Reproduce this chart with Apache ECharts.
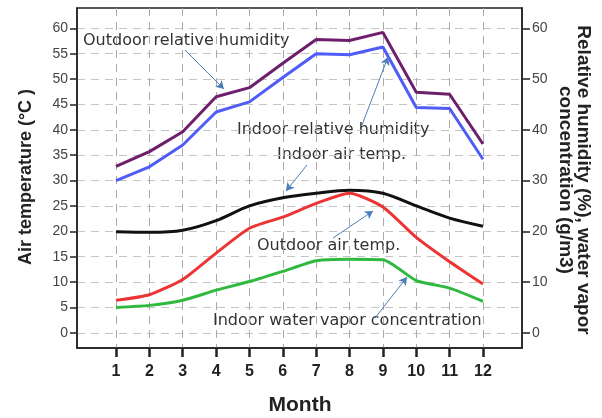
<!DOCTYPE html>
<html>
<head>
<meta charset="utf-8">
<script src="https://cdn.jsdelivr.net/npm/echarts@6/dist/echarts.min.js"></script>
<style>
  html, body { margin: 0; padding: 0; background: #fff; }
  #main { width: 602px; height: 418px; }
</style>
</head>
<body>
<div id="main"></div>
<script>
var months = [1, 2, 3, 4, 5, 6, 7, 8, 9, 10, 11, 12];
var outdoorRH = [32.8, 35.7, 39.6, 46.5, 48.3, 53.1, 57.8, 57.6, 59.2, 47.4, 47.0, 37.2];
var indoorRH = [30.0, 32.7, 37.0, 43.5, 45.5, 50.3, 55.0, 54.8, 56.3, 44.4, 44.2, 34.2];
var indoorTemp = [19.9, 19.8, 20.2, 22.1, 25.0, 26.6, 27.5, 28.1, 27.5, 25.0, 22.6, 21.0];
var outdoorTemp = [6.4, 7.5, 10.5, 15.7, 20.6, 22.8, 25.5, 27.5, 24.8, 18.8, 14.0, 9.6];
var indoorVapor = [5.0, 5.4, 6.4, 8.4, 10.1, 12.1, 14.2, 14.5, 14.4, 10.3, 8.8, 6.2];
var leftTicks = [0, 5, 10, 15, 20, 25, 30, 35, 40, 45, 50, 55, 60];
var rightTicks = [0, 10, 20, 30, 40, 50, 60];

function pairs(arr) {
  return arr.map(function (v, i) { return [months[i], v]; });
}

var myChart = echarts.init(document.getElementById('main'));

var arrow = function (x1, y1, x2, y2) {
  return [{ x: x1, y: y1, symbol: 'none' }, { x: x2, y: y2, symbol: 'arrow' }];
};

var annText = function (txt, x, y) {
  return {
    type: 'text', left: x, top: y,
    style: { text: txt, fill: '#333', font: '16px "DejaVu Sans", sans-serif' }
  };
};

var option = {
  animation: false,
  grid: {
    left: 77, right: 80, top: 8, bottom: 70,
    show: true, borderColor: '#222', borderWidth: 1.5, backgroundColor: 'transparent'
  },
  xAxis: {
    type: 'value', min: -0.17, max: 13.17,
    axisLine: { show: true, onZero: false, lineStyle: { color: '#222', width: 1.5 } },
    axisTick: { show: true, customValues: months, length: 9, lineStyle: { color: '#222', width: 2.5 } },
    axisLabel: {
      customValues: months, margin: 16, color: '#222',
      fontSize: 16, fontWeight: 'bold', fontFamily: 'Liberation Sans, Arial, sans-serif'
    },
    splitLine: { show: true, lineStyle: { color: '#aaa', type: [8, 6], width: 1 } }
  },
  yAxis: [
    {
      type: 'value', min: -3, max: 64, position: 'left',
      axisLine: { show: true, onZero: false, lineStyle: { color: '#222', width: 1.5 } },
      axisTick: { show: true, customValues: leftTicks, length: 7, lineStyle: { color: '#222', width: 1.5 } },
      axisLabel: {
        customValues: leftTicks, margin: 9, color: '#444',
        fontSize: 14, fontFamily: 'Liberation Sans, Arial, sans-serif'
      },
      splitLine: { show: true, lineStyle: { color: '#c4c4c4', type: [8, 6], width: 1 } }
    },
    {
      type: 'value', min: -3, max: 64, position: 'right',
      axisLine: { show: true, onZero: false, lineStyle: { color: '#222', width: 1.5 } },
      axisTick: { show: true, customValues: rightTicks, length: 8, lineStyle: { color: '#222', width: 1.5 } },
      axisLabel: {
        customValues: rightTicks, margin: 10, color: '#444',
        fontSize: 14, fontFamily: 'Liberation Sans, Arial, sans-serif'
      },
      splitLine: { show: false }
    }
  ],
  series: [
    {
      name: 'Outdoor relative humidity', type: 'line', yAxisIndex: 1,
      data: pairs(outdoorRH), symbol: 'none',
      lineStyle: { color: '#6e1f6c', width: 3 }
    },
    {
      name: 'Indoor relative humidity', type: 'line', yAxisIndex: 1,
      data: pairs(indoorRH), symbol: 'none',
      lineStyle: { color: '#4f5cf5', width: 3 }
    },
    {
      name: 'Indoor air temp.', type: 'line', yAxisIndex: 0,
      data: pairs(indoorTemp), symbol: 'none', smooth: 0.3,
      lineStyle: { color: '#111', width: 3 }
    },
    {
      name: 'Outdoor air temp.', type: 'line', yAxisIndex: 0,
      data: pairs(outdoorTemp), symbol: 'none', smooth: 0.2,
      lineStyle: { color: '#ec3434', width: 3 }
    },
    {
      name: 'Indoor water vapor concentration', type: 'line', yAxisIndex: 1,
      data: pairs(indoorVapor), symbol: 'none', smooth: 0.2,
      lineStyle: { color: '#2fb93f', width: 3 },
      markLine: {
        silent: true, symbolSize: [7, 8],
        lineStyle: { color: '#4a7ebb', width: 1, type: 'solid' },
        label: { show: false },
        data: [
          arrow(185, 50, 224, 89),
          arrow(362, 125, 388, 57),
          arrow(307, 165, 286, 191),
          arrow(333, 238, 373, 211),
          arrow(375, 318, 407, 277)
        ]
      }
    }
  ],
  graphic: [
    annText('Outdoor relative humidity', 83, 33),
    annText('Indoor relative humidity', 237, 122),
    annText('Indoor air temp.', 277, 147),
    annText('Outdoor air temp.', 257, 238),
    annText('Indoor water vapor concentration', 213, 313),
    {
      type: 'text', x: 26, y: 177, rotation: Math.PI / 2,
      style: {
        text: 'Air temperature (°C )', fill: '#222', align: 'center', verticalAlign: 'middle',
        font: 'bold 18px "Liberation Sans", Arial, sans-serif'
      }
    },
    {
      type: 'text', x: 574, y: 180, rotation: -Math.PI / 2,
      style: {
        text: 'Relative humidity (%), water vapor\nconcentration (g/m3)', fill: '#222',
        align: 'center', verticalAlign: 'middle', lineHeight: 18,
        font: 'bold 19px "Liberation Sans", Arial, sans-serif'
      }
    },
    {
      type: 'text', x: 300, y: 405,
      style: {
        text: 'Month', fill: '#222', align: 'center', verticalAlign: 'middle',
        font: 'bold 21px "Liberation Sans", Arial, sans-serif'
      }
    }
  ]
};
myChart.setOption(option);

window.onresize = function () {
  myChart.resize();
};
</script>
</body>
</html>
